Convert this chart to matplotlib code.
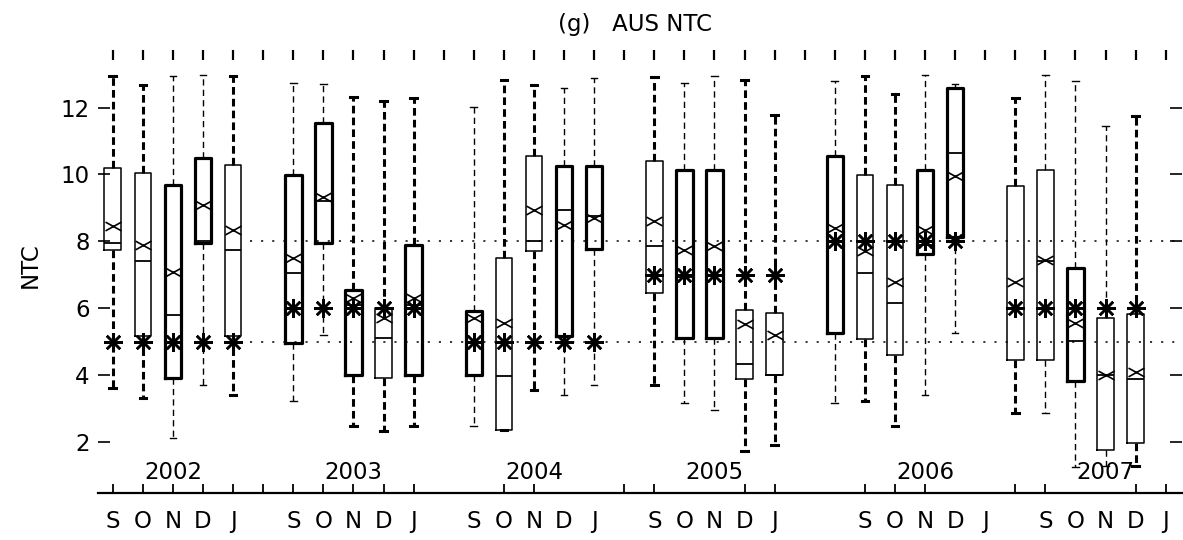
import matplotlib
matplotlib.use('Agg')
import matplotlib.pyplot as plt
from matplotlib.path import Path
from matplotlib.transforms import blended_transform_factory

plt.rcParams['font.family'] = ['DejaVu Sans']
plt.rcParams['lines.scale_dashes'] = False

# ---------------- data ----------------
years = ['2002', '2003', '2004', '2005', '2006', '2007']
months = ['S', 'O', 'N', 'D', 'J']

whis_lo = [3.62, 3.32, 2.12, 3.72, 3.42,
           3.22, 5.20, 2.47, 2.32, 2.47,
           2.47, 2.37, 3.57, 3.42, 3.72,
           3.72, 3.17, 2.97, 1.73, 1.92,
           3.17, 3.22, 2.47, 3.42, 5.26,
           2.87, 2.87, 1.25, 1.30, 1.30]
q1 = [7.75, 5.16, 3.92, 7.95, 5.16,
      4.96, 7.95, 4.02, 3.92, 4.02,
      4.02, 2.37, 7.72, 5.16, 7.78,
      6.46, 5.11, 5.11, 3.90, 4.02,
      5.26, 5.09, 4.61, 7.62, 8.12,
      4.46, 4.46, 3.84, 1.78, 1.97]
med = [7.95, 7.40, 5.81, 8.00, 7.75,
       7.05, 9.20, 6.10, 5.11, 6.10,
       5.00, 3.97, 8.02, 8.95, 8.75,
       7.85, 6.95, 7.00, 4.33, 4.02,
       8.00, 7.05, 6.16, 7.90, 10.64,
       6.00, 7.40, 5.01, 4.00, 3.90]
q3 = [10.19, 10.04, 9.69, 10.49, 10.29,
      9.99, 11.54, 6.56, 6.00, 7.90,
      5.91, 7.50, 10.54, 10.24, 10.24,
      10.39, 10.14, 10.14, 5.96, 5.86,
      10.54, 9.99, 9.69, 10.14, 12.58,
      9.67, 10.14, 7.22, 5.71, 5.83]
whis_hi = [12.93, 12.68, 12.93, 12.98, 12.93,
           12.73, 12.70, 12.33, 12.20, 12.28,
           12.03, 12.83, 12.68, 12.58, 12.88,
           12.90, 12.73, 12.93, 12.83, 11.78,
           12.80, 12.93, 12.40, 12.98, 12.70,
           12.28, 12.98, 12.80, 11.44, 11.74]
mean = [8.45, 7.90, 7.10, 9.10, 8.35,
        7.50, 9.34, 6.30, 5.70, 6.30,
        5.71, 5.56, 8.95, 8.50, 8.70,
        8.60, 7.75, 7.85, 5.53, 5.20,
        8.40, 7.70, 6.80, 8.35, 9.94,
        6.80, 7.45, 5.56, 4.00, 4.10]
star = [5, 5, 5, 5, 5,
        6, 6, 6, 6, 6,
        5, 5, 5, 5, 5,
        7, 7, 7, 7, 7,
        8, 8, 8, 8, 8,
        6, 6, 6, 6, 6]
ref_levels = [5, 8]

# ---------------- styles / layout ----------------
box_thick = [0, 0, 1, 1, 0,
             1, 1, 1, 0, 1,
             1, 0, 0, 1, 1,
             0, 1, 1, 0, 0,
             1, 0, 0, 1, 1,
             0, 0, 1, 0, 0]
whisk_thick = [1, 1, 0, 0, 1,
               0, 0, 1, 1, 1,
               0, 1, 1, 0, 0,
               1, 0, 0, 1, 1,
               0, 1, 1, 0, 0,
               1, 0, 0, 0, 1]

slots_per_year = 6
box_slots = [y * slots_per_year + m for y in range(len(years)) for m in range(len(months))]
label_slots = [0, 1, 2, 3, 4, 6, 7, 8, 9, 10, 12, 13, 14, 15, 16,
               18, 19, 20, 21, 22, 25, 26, 27, 28, 29, 31, 32, 33, 34, 35]
year_label_slots = [2, 8, 14, 20, 27, 33]
bottom_tick_slots = [0, 1, 2, 3, 4, 5, 6, 7, 8, 9, 10, 13, 14, 17, 18,
                     21, 22, 25, 26, 27, 30, 31, 34, 35]

W, H = 1183, 540
fig = plt.figure(figsize=(W / 100, H / 100), dpi=100)
ax = fig.add_axes([98 / W, 47.3 / H, (1182 - 98) / W, (490 - 47.3) / H])
ax.set_xlim(-0.49, 35.54)
ax.set_ylim(0.49, 13.72)

xpath = Path([(-1, -0.55), (1, 0.55), (-1, 0.55), (1, -0.55)],
             [Path.MOVETO, Path.LINETO, Path.MOVETO, Path.LINETO])

# reference dotted lines
ax.hlines(ref_levels, 4.55, 35.54, colors='k', linewidth=1.1,
          linestyles=[(0, (1.5, 6.5))], zorder=1)

for i, pos in enumerate(box_slots):
    stats = dict(med=med[i], q1=q1[i], q3=q3[i], whislo=whis_lo[i],
                 whishi=whis_hi[i], mean=mean[i], fliers=[])
    blw = 2.3 if box_thick[i] else 1.1
    wlw = 2.2 if whisk_thick[i] else 1.0
    dash = (0, (5.5, 3.0)) if whisk_thick[i] else (0, (4.5, 3.0))
    ax.bxp([stats], positions=[pos], widths=0.55, capwidths=0.22,
           showmeans=True, showfliers=False, manage_ticks=False,
           boxprops=dict(color='k', linewidth=blw),
           whiskerprops=dict(color='k', linewidth=wlw, linestyle=dash),
           capprops=dict(color='k', linewidth=wlw),
           medianprops=dict(color='k', linewidth=1.3),
           meanprops=dict(marker=xpath, markersize=11.5, markeredgecolor='k',
                          markerfacecolor='none', markeredgewidth=1.2,
                          linestyle='none'))

ax.plot(box_slots, star, linestyle='none', marker=(8, 2, 0), markersize=13.5,
        markeredgewidth=1.8, color='k', zorder=5)

# axes styling
for s in ['left', 'right', 'top']:
    ax.spines[s].set_visible(False)
ax.spines['bottom'].set_linewidth(1.6)

ax.set_yticks([2, 4, 6, 8, 10, 12])
ax.tick_params(axis='y', which='major', direction='in', length=8.5, width=1.2,
               left=True, right=True, labelleft=True, labelright=False,
               labelsize=16.5, pad=6)

ax.xaxis.remove_overlapping_locs = False
ax.set_xticks(bottom_tick_slots)
ax.set_xticklabels([])
ax.set_xticks(range(36), minor=True)
ax.tick_params(axis='x', which='major', direction='in', length=6.5, width=1.3,
               bottom=True, top=False)
ax.tick_params(axis='x', which='minor', direction='in', length=7, width=1.6,
               bottom=False, top=True)

trans = blended_transform_factory(ax.transData, ax.transAxes)
month_labels = months * len(years)
for s, lab in zip(label_slots, month_labels):
    ax.text(s, -0.0655, lab, transform=trans, ha='center', va='center',
            fontsize=16.5)
for s, yr in zip(year_label_slots, years):
    ax.text(s, 1.08, yr, ha='center', va='center', fontsize=16.5)

fig.text(30 / W, 1 - 265 / H, 'NTC', rotation=90, ha='center', va='center',
         fontsize=16.5)
fig.text(635 / W, 1 - 24 / H, '(g)   AUS NTC', ha='center', va='center',
         fontsize=16.5)

fig.savefig('out.png', dpi=100)
